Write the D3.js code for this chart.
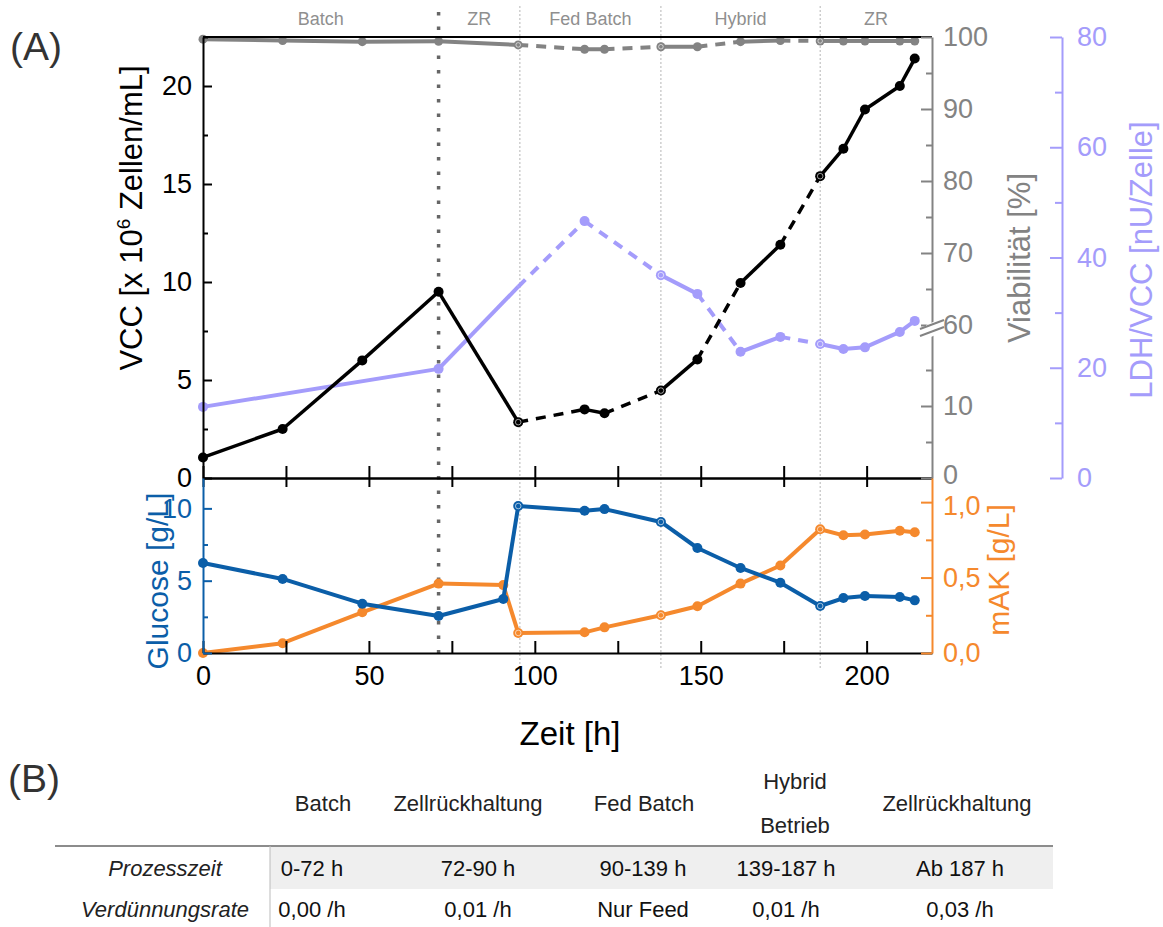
<!DOCTYPE html>
<html>
<head>
<meta charset="utf-8">
<script src="https://cdn.jsdelivr.net/npm/d3@7"></script>
<style>
body { margin: 0; background: #fff; }
svg { display: block; font-family: "Liberation Sans", Arial, sans-serif; }
</style>
</head>
<body>
<svg id="chart" width="1163" height="927"></svg>
<script>
// ---- data ----
var phaseNames  = ["Batch", "ZR", "Fed Batch", "Hybrid", "ZR"];
var phaseBounds = [0, 71, 95.5, 138, 186, 219.7];
// samples taken right at a phase change are drawn as open rings
var ringTimes   = [95, 138, 186];

// VCC and viability share sampling times
var tCells = [0, 24, 48, 71, 95, 115, 121, 138, 149, 162, 174, 186, 193, 199.5, 210, 214.5];
var vcc    = [1.05, 2.5, 6.0, 9.5, 2.85, 3.5, 3.3, 4.46, 6.05, 9.95, 11.9, 15.4, 16.8, 18.8, 20.0, 21.4];
var viab   = [99.7, 99.5, 99.35, 99.4, 98.9, 98.3, 98.3, 98.65, 98.65, 99.35, 99.5, 99.45, 99.45, 99.45, 99.45, 99.45];
// s = solid, d = dashed (segment i joins point i and i+1)
var cellSegs = ["s","s","s","s","d","s","d","s","d","s","d","s","s","s","s"];

var tLdh    = [0, 71, 95, 115, 138, 149, 162, 174, 186, 193, 199.5, 210, 214.5];
var ldh     = [12.9, 19.8, 34.7, 46.6, 36.8, 33.4, 22.9, 25.6, 24.3, 23.4, 23.7, 26.5, 28.5];
var ldhMark = [1, 1, 0, 1, 1, 1, 1, 1, 1, 1, 1, 1, 1];
var ldhSegs = ["s","s","d","d","s","d","s","d","s","s","s","s"];

var tMedium = [0, 24, 48, 71, 90.5, 95, 115, 121, 138, 149, 162, 174, 186, 193, 199.5, 210, 214.5];
var glucose = [6.22, 5.12, 3.41, 2.56, 3.73, 10.16, 9.84, 9.95, 9.06, 7.26, 5.88, 4.86, 3.25, 3.80, 3.94, 3.87, 3.64];
var mak     = [0.0, 0.065, 0.27, 0.46, 0.45, 0.133, 0.137, 0.17, 0.25, 0.31, 0.46, 0.58, 0.82, 0.78, 0.785, 0.81, 0.80];

var xTicks     = [0, 25, 50, 75, 100, 125, 150, 175, 200];
var vccTicks   = [0, 5, 10, 15, 20];
var viaTicks   = [0, 10, 60, 70, 80, 90, 100];
var ldhTicks   = [0, 20, 40, 60, 80];
var gluTicks   = [0, 5, 10];
var makTicks   = [0, 0.5, 1.0];

// table (B)
var tableHead  = [["Batch"], ["Zellrückhaltung"], ["Fed Batch"], ["Hybrid", "Betrieb"], ["Zellrückhaltung"]];
var rowLabels  = ["Prozesszeit", "Verdünnungsrate"];
var rowProzess = ["0-72 h", "72-90 h", "90-139 h", "139-187 h", "Ab 187 h"];
var rowVerd    = ["0,00 /h", "0,01 /h", "Nur Feed", "0,01 /h", "0,03 /h"];

// ---- layout ----
var L = 203, R = 932, T = 37, M = 478, B = 653;
var cBlack = "#000", cGray = "#838383", cLav = "#a49cfb", cBlue = "#0b5ea8", cOrange = "#f5892d";
var headX = [323, 468, 644, 795, 957];
var cellX = [312, 478, 643, 786, 960];
var tickFs = 27, titleFs = 31;

var svg = d3.select("#chart");

var x    = d3.scaleLinear().domain([0, 219.7]).range([L, R]);
var yV   = d3.scaleLinear().domain([0, 22.5]).range([M, T]);
var yVia = d3.scaleLinear().domain([0, 20, 60, 100]).range([M, 334, 325, T]);
var yL   = d3.scaleLinear().domain([0, 80]).range([M, T]);
var yG   = d3.scaleLinear().domain([0, 12.1]).range([B, M]);
var yM   = d3.scaleLinear().domain([0, 1.16]).range([B, M]);

// phase separators
phaseBounds.slice(1, 5).forEach(function(t, i) {
  svg.append("line")
    .attr("x1", x(t)).attr("x2", x(t))
    .attr("y1", i == 0 ? 12 : 6).attr("y2", i == 0 ? 662 : 668)
    .attr("stroke", i == 0 ? "#666" : "#b5b5b5")
    .attr("stroke-width", i == 0 ? 3.5 : 1)
    .attr("stroke-dasharray", i == 0 ? "3.5,11" : "2,2");
});
phaseNames.forEach(function(n, i) {
  svg.append("text")
    .attr("x", x((phaseBounds[i] + phaseBounds[i+1]) / 2)).attr("y", 25)
    .attr("text-anchor", "middle").attr("fill", "#8f8f8f")
    .attr("font-size", 18).text(n);
});

// series drawing
function series(xs, ys, ySc, segs, color, w, marks, r) {
  var g = svg.append("g");
  for (var i = 0; i < xs.length - 1; i++) {
    g.append("line")
      .attr("x1", x(xs[i])).attr("y1", ySc(ys[i]))
      .attr("x2", x(xs[i+1])).attr("y2", ySc(ys[i+1]))
      .attr("stroke", color).attr("stroke-width", w)
      .attr("stroke-dasharray", segs && segs[i] == "d" ? "10,8" : null);
  }
  var pts = xs.map(function(t, i) { return [t, ys[i], marks ? marks[i] : 1]; })
    .filter(function(d) { return d[2]; });
  g.selectAll("circle.m").data(pts)
    .enter().append("circle").attr("class", "m")
    .attr("cx", function(d) { return x(d[0]); })
    .attr("cy", function(d) { return ySc(d[1]); })
    .attr("r", r).attr("fill", color);
  g.selectAll("circle.o").data(pts.filter(function(d) { return ringTimes.indexOf(d[0]) >= 0; }))
    .enter().append("circle").attr("class", "o")
    .attr("cx", function(d) { return x(d[0]); })
    .attr("cy", function(d) { return ySc(d[1]); })
    .attr("r", r - 2.2).attr("fill", "none")
    .attr("stroke", "#fff").attr("stroke-opacity", 0.6).attr("stroke-width", 1);
}

series(tCells, viab, yVia, cellSegs, cGray, 4, null, 4.5);
series(tLdh, ldh, yL, ldhSegs, cLav, 4, ldhMark, 5);
series(tCells, vcc, yV, cellSegs, cBlack, 3.5, null, 5);
series(tMedium, mak, yM, null, cOrange, 4, null, 5);
series(tMedium, glucose, yG, null, cBlue, 4, null, 5);

// ---- axes ----
function styleAxis(g, color, fs) {
  g.select(".domain").attr("stroke", color).attr("stroke-width", 2);
  g.selectAll(".tick line").attr("stroke", color).attr("stroke-width", 2);
  g.selectAll("text").attr("fill", color).attr("font-size", fs)
    .attr("font-family", "Liberation Sans, Arial, sans-serif");
}
function minor(g, axisFn, vals, size) {
  g.append("g").call(axisFn.tickValues(vals).tickSize(size).tickSizeOuter(0).tickFormat(""))
    .call(function(s) { s.select(".domain").remove(); });
}

// top frame line
svg.append("line").attr("x1", L).attr("x2", R).attr("y1", T).attr("y2", T)
  .attr("stroke", cBlack).attr("stroke-width", 2);

// x axes
var gx1 = svg.append("g").attr("transform", "translate(0," + M + ")")
  .call(d3.axisBottom(x).tickValues(xTicks).tickSize(-12).tickSizeOuter(0).tickFormat(""));
styleAxis(gx1, cBlack, tickFs);
var gx2 = svg.append("g").attr("transform", "translate(0," + M + ")")
  .call(d3.axisBottom(x).tickValues(xTicks).tickSize(9).tickSizeOuter(0).tickFormat(""));
styleAxis(gx2, cBlack, tickFs);
var gx3 = svg.append("g").attr("transform", "translate(0," + B + ")")
  .call(d3.axisBottom(x).tickValues(xTicks).tickSize(-12).tickSizeOuter(0).tickPadding(13)
    .tickFormat(function(d) { return d % 50 == 0 ? d : ""; }));
styleAxis(gx3, cBlack, tickFs);

// VCC axis
var gv = svg.append("g").attr("transform", "translate(" + L + ",0)")
  .call(d3.axisLeft(yV).tickValues(vccTicks).tickSize(-9).tickSizeOuter(0).tickPadding(11));
minor(gv, d3.axisLeft(yV), [2.5, 7.5, 12.5, 17.5, 22.5], -5);
styleAxis(gv, cBlack, tickFs);

// glucose axis
var gg = svg.append("g").attr("transform", "translate(" + L + ",0)")
  .call(d3.axisLeft(yG).tickValues(gluTicks).tickSize(-9).tickSizeOuter(0).tickPadding(11));
minor(gg, d3.axisLeft(yG), [2.5, 7.5], -5);
styleAxis(gg, cBlue, tickFs);

// viability axis (broken)
var gvi = svg.append("g").attr("transform", "translate(" + R + ",0)")
  .call(d3.axisRight(yVia).tickValues(viaTicks).tickSize(-11).tickSizeOuter(0).tickPadding(11));
minor(gvi, d3.axisRight(yVia), [5, 15, 65, 75, 85, 95], -6);
styleAxis(gvi, cGray, tickFs);
gvi.selectAll(".tick text").filter(function(d) { return d == 0; }).attr("dy", "0.2em");
svg.append("polygon")
  .attr("points", [[R-6, yVia(20)+5], [R+6, yVia(20)], [R+6, yVia(60)-5], [R-6, yVia(60)]].join(" "))
  .attr("fill", "#fff");
[0, 7].forEach(function(o) {
  svg.append("line")
    .attr("x1", R - 12).attr("y1", yVia(60) + 4 + o)
    .attr("x2", R + 12).attr("y2", yVia(60) - 5 + o)
    .attr("stroke", cGray).attr("stroke-width", 2);
});

// mAK axis
var gm = svg.append("g").attr("transform", "translate(" + R + ",0)")
  .call(d3.axisRight(yM).tickValues(makTicks).tickSize(-11).tickSizeOuter(0).tickPadding(11)
    .tickFormat(function(d) { return d.toFixed(1).replace(".", ","); }));
minor(gm, d3.axisRight(yM), [0.25, 0.75], -6);
styleAxis(gm, cOrange, tickFs);
gm.selectAll(".tick text").filter(function(d) { return d == 1; }).attr("dy", "0.45em");

// LDH axis
var gl = svg.append("g").attr("transform", "translate(1062,0)")
  .call(d3.axisRight(yL).tickValues(ldhTicks).tickSize(-12).tickSizeOuter(0).tickPadding(15));
minor(gl, d3.axisRight(yL), [10, 30, 50, 70], -7);
styleAxis(gl, cLav, tickFs);

// axis titles
function vTitle(txt, cx, cy, color, fs) {
  return svg.append("text").attr("transform", "translate(" + cx + "," + cy + ") rotate(-90)")
    .attr("text-anchor", "middle").attr("fill", color).attr("font-size", fs).text(txt);
}
var vt = svg.append("text").attr("transform", "translate(142,218) rotate(-90)")
  .attr("text-anchor", "middle").attr("fill", cBlack).attr("font-size", titleFs);
vt.append("tspan").text("VCC [x 10");
vt.append("tspan").attr("font-size", 19).attr("dy", -12).text("6");
vt.append("tspan").attr("dy", 12).text(" Zellen/mL]");
vTitle("Viabilität [%]", 1030, 258, cGray, titleFs);
vTitle("LDH/VCC [nU/Zelle]", 1152, 260, cLav, titleFs);
vTitle("Glucose [g/L]", 168, 581, cBlue, 30);
vTitle("mAK [g/L]", 1009, 570, cOrange, 30);
svg.append("text").attr("x", 570).attr("y", 745).attr("text-anchor", "middle")
  .attr("font-size", 33).text("Zeit [h]");

svg.append("text").attr("x", 10).attr("y", 60).attr("font-size", 39).attr("fill", "#333").text("(A)");
svg.append("text").attr("x", 8).attr("y", 792).attr("font-size", 39).attr("fill", "#333").text("(B)");

// ---- table (B) ----
var tf = "Liberation Sans Narrow, Arial Narrow, sans-serif";
svg.append("rect").attr("x", 270).attr("y", 847).attr("width", 783).attr("height", 42).attr("fill", "#efefef");
svg.append("line").attr("x1", 55).attr("x2", 1053).attr("y1", 846).attr("y2", 846)
  .attr("stroke", "#8c8c8c").attr("stroke-width", 2);
svg.append("line").attr("x1", 270).attr("x2", 270).attr("y1", 846).attr("y2", 927)
  .attr("stroke", "#bbb").attr("stroke-width", 1);
tableHead.forEach(function(h, i) {
  h.forEach(function(s, j) {
    svg.append("text").attr("x", headX[i]).attr("y", h.length == 1 ? 811 : 789 + j * 44)
      .attr("text-anchor", "middle").attr("font-family", tf).attr("font-size", 22)
      .attr("fill", "#222").text(s);
  });
});
[rowProzess, rowVerd].forEach(function(row, r) {
  svg.append("text").attr("x", 165).attr("y", 876 + r * 41).attr("text-anchor", "middle")
    .attr("font-family", tf).attr("font-style", "italic").attr("font-size", 22)
    .attr("fill", "#222").text(rowLabels[r]);
  row.forEach(function(s, i) {
    svg.append("text").attr("x", cellX[i]).attr("y", 876 + r * 41).attr("text-anchor", "middle")
      .attr("font-family", tf).attr("font-size", 22).attr("fill", "#111").text(s);
  });
});
</script>
</body>
</html>
